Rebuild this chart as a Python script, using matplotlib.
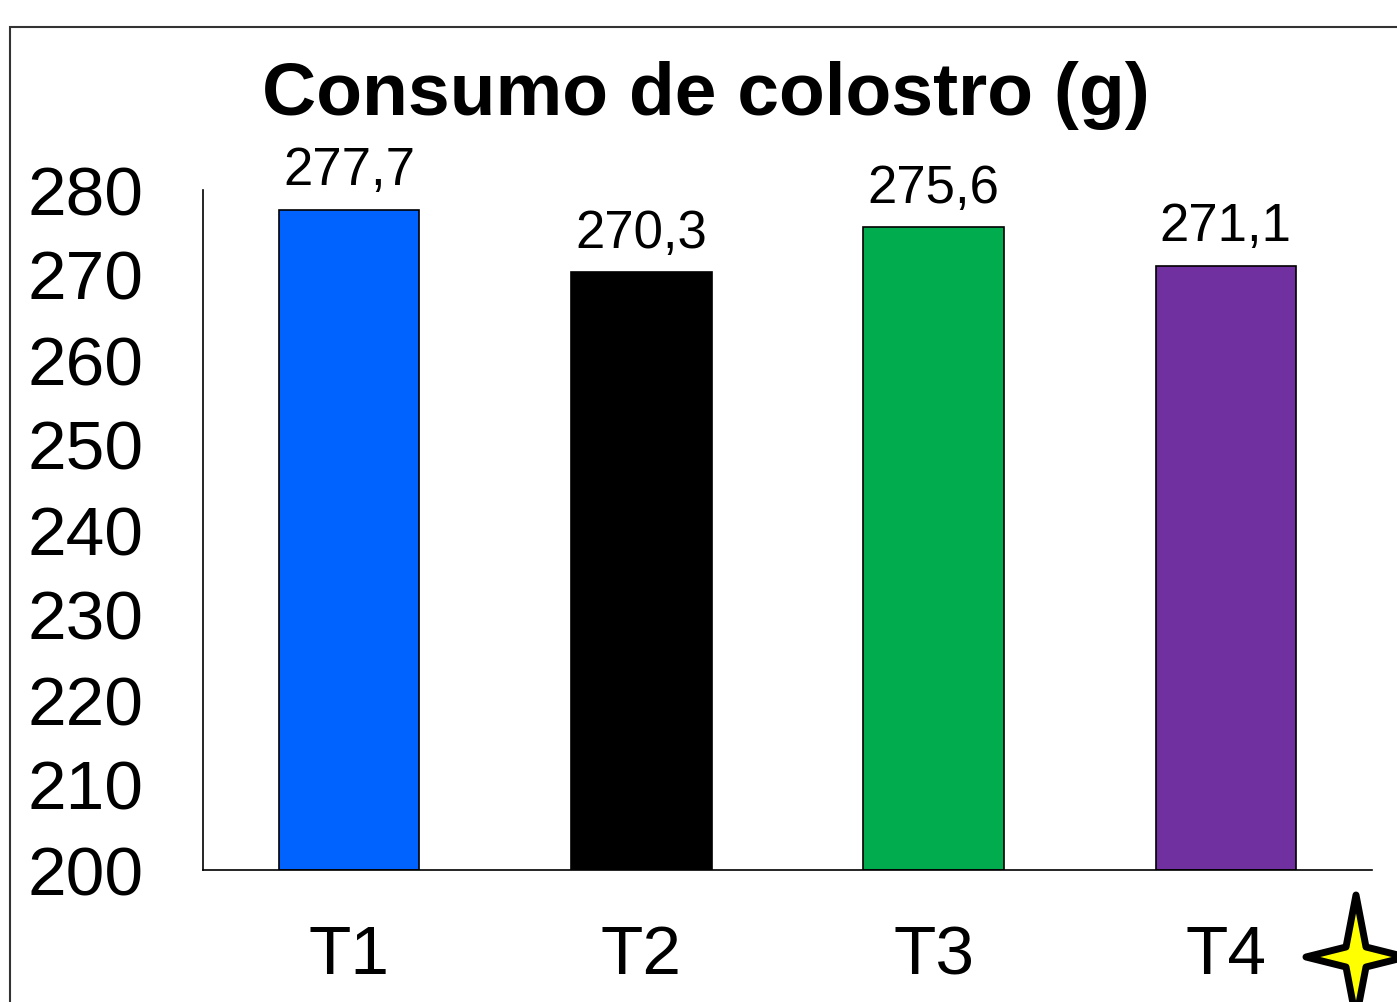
import matplotlib.pyplot as plt
from matplotlib.patches import Rectangle, Polygon

categories = ['T1', 'T2', 'T3', 'T4']
values = [277.7, 270.3, 275.6, 271.1]
labels = ['277,7', '270,3', '275,6', '271,1']
colors = ['#0062FF', '#000000', '#00AC4E', '#7030A0']

plt.rcParams['font.family'] = ['Liberation Sans', 'DejaVu Sans']

W, H = 1397, 1002
fig = plt.figure(figsize=(W / 100, H / 100), dpi=100)
ax = fig.add_axes([203 / W, 1 - 870 / H, (1372 - 203) / W, (870 - 190) / H])

x = range(len(categories))
ax.bar(x, [v - 200 for v in values], bottom=200, width=0.48, color=colors,
       edgecolor='black', linewidth=1.2)
for i, (v, lab) in enumerate(zip(values, labels)):
    ax.annotate(lab, (i, v), xytext=(0, 10), textcoords='offset points',
                ha='center', va='bottom', fontsize=38)

ax.set_xlim(-0.5, 3.5)
ax.set_ylim(200, 280)
ax.set_yticks(range(200, 281, 10))
ax.set_xticks(list(x))
ax.set_xticklabels(categories)
ax.tick_params(axis='y', length=0, pad=43, labelsize=50)
ax.tick_params(axis='x', length=0, pad=39, labelsize=50)
for s in ['top', 'right']:
    ax.spines[s].set_visible(False)
ax.spines['left'].set_linewidth(1.2)
ax.spines['bottom'].set_linewidth(1.2)

fig.text(706 / W, 1 - 96 / H, 'Consumo de colostro (g)', ha='center', va='center',
         fontsize=54, fontweight='bold')

# outer frame
fig.patches.append(Rectangle((10 / W, -0.1), 1.2, 1 - 27 / H + 0.1,
                             transform=fig.transFigure, fill=False,
                             edgecolor='#333333', linewidth=1.5))

# four-pointed star
cx, cy, r_out_v, r_out_h, r_in = 1356, 957, 62, 50, 10
pts = [(cx, cy - r_out_v), (cx + r_in, cy - r_in), (cx + r_out_h, cy),
       (cx + r_in, cy + r_in), (cx, cy + r_out_v), (cx - r_in, cy + r_in),
       (cx - r_out_h, cy), (cx - r_in, cy - r_in)]
pts = [(px / W, 1 - py / H) for px, py in pts]
fig.patches.append(Polygon(pts, closed=True, transform=fig.transFigure,
                           facecolor='#FFFF00', edgecolor='black', linewidth=5,
                           joinstyle='round'))

fig.savefig('out.png', dpi=100)
